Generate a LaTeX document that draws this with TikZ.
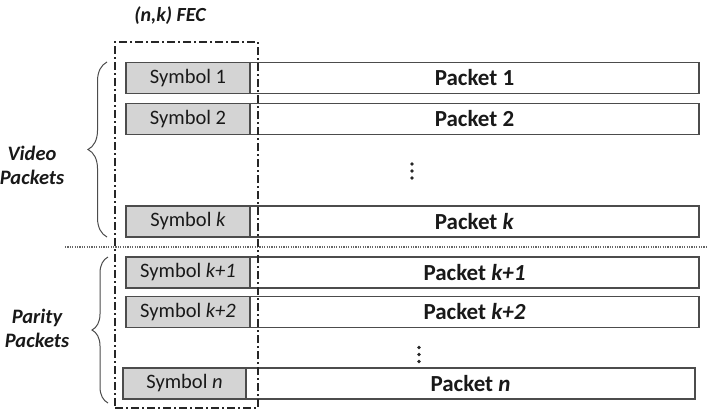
\documentclass[tikz,border=0pt]{standalone}
\usepackage{fontspec}
\setmainfont{Carlito}
\usetikzlibrary{positioning,decorations.pathreplacing}

\begin{document}
\begin{tikzpicture}[x=1pt, y=-1pt,
  every node/.style={font=\fontsize{20.5}{24}\selectfont, text=black!90},
  symcell/.style={draw=black!70, line width=1.2pt, fill=black!17, minimum width=124pt,
    minimum height=31pt, inner sep=0pt, outer sep=0pt, anchor=west},
  pktcell/.style={draw=black!70, line width=1.2pt, minimum width=449pt, minimum height=31pt,
    inner sep=0pt, outer sep=0pt, anchor=west, font=\fontsize{23}{26}\selectfont\bfseries},
  fecframe/.style={draw=black!85, line width=1.6pt, dash pattern=on 8pt off 3pt on 2pt off 3pt,
    inner sep=0pt},
  grouplabel/.style={align=center, font=\fontsize{20.5}{24}\selectfont\bfseries\itshape},
  sidebrace/.style={draw=black!70, line width=1pt, decorate, decoration={brace, amplitude=19pt}},
  sepline/.style={draw=black!60, line width=1.2pt, dash pattern=on 1.2pt off 1.2pt}]
  \useasboundingbox (0,0) rectangle (708,415);

  % Video packets
  \node[symcell] (sym1) at (126,78) {Symbol 1};
  \node[pktcell, right=0pt of sym1] (pkt1) {Packet 1};
  \node[symcell] (sym2) at (126,119) {Symbol 2};
  \node[pktcell, right=0pt of sym2] (pkt2) {Packet 2};
  \node[symcell] (symk) at (126,221.5) {Symbol \textit{k}};
  \node[pktcell, right=0pt of symk] (pktk) {Packet \textit{k}};

  % Parity packets
  \node[symcell] (symk1) at (126,272.5) {Symbol \textit{k+1}};
  \node[pktcell, right=0pt of symk1] (pktk1) {Packet \textit{k+1}};
  \node[symcell] (symk2) at (126,312) {Symbol \textit{k+2}};
  \node[pktcell, right=0pt of symk2] (pktk2) {Packet \textit{k+2}};
  \node[symcell, minimum width=123pt] (symn) at (123,383.5) {Symbol \textit{n}};
  \node[pktcell, right=0pt of symn] (pktn) {Packet \textit{n}};

  % Vertical dots
  \coordinate (dotsA) at (412,171);
  \coordinate (dotsB) at (419,354.5);
  \foreach \d in {dotsA,dotsB}
    \foreach \dy in {-7,0,7}
      \fill[black!85] (\d) ++(0,\dy) circle (1.9);

  % Separator
  \coordinate (sepL) at (65,247);
  \coordinate (sepR) at (708,247);
  \draw[sepline] (sepL) -- (sepR);

  % FEC window
  \node[fecframe, minimum width=143pt, minimum height=366pt] (fec) at (186.5,225) {};
  \node[font=\fontsize{20}{22}\selectfont\bfseries\itshape] (feclabel) at (170,16) {(n,k) FEC};

  % Braces
  \coordinate (vidBot) at (107,237);
  \coordinate (vidTop) at (107,62);
  \coordinate (parBot) at (108,403);
  \coordinate (parTop) at (108,257);
  \draw[sidebrace] (vidBot) -- (vidTop);
  \draw[sidebrace, decoration={amplitude=16pt}] (parBot) -- (parTop);
  \node[grouplabel] (vidlabel) at (32,165) {Video\\Packets};
  \node[grouplabel] (parlabel) at (37,328) {Parity\\Packets};
\end{tikzpicture}
\end{document}
